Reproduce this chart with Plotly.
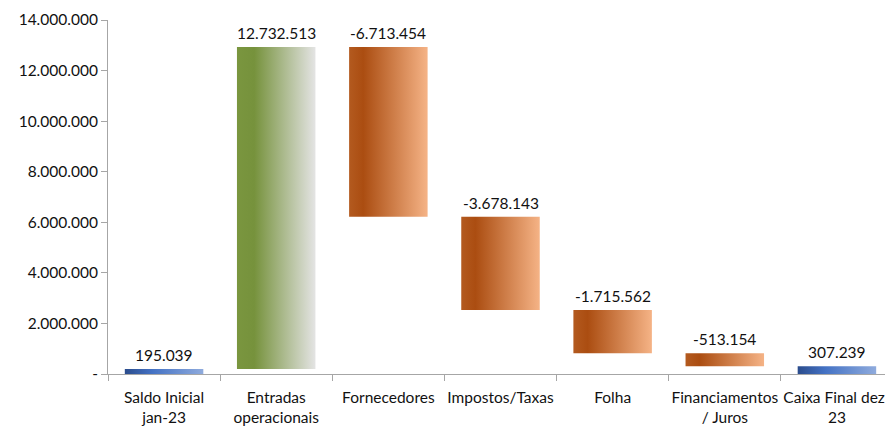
import plotly.graph_objects as go

# categorias e valores do fluxo de caixa
categorias = ["Saldo Inicial<br>jan-23", "Entradas<br>operacionais", "Fornecedores",
              "Impostos/Taxas", "Folha", "Financiamentos<br>/ Juros", "Caixa Final dez-<br>23"]
valores = [195039, 12732513, -6713454, -3678143, -1715562, -513154, 307239]
tipos = ["total", "entrada", "saida", "saida", "saida", "saida", "total"]

ticks_y = [0, 2000000, 4000000, 6000000, 8000000, 10000000, 12000000, 14000000]
ticks_y_txt = ["-", "2.000.000", "4.000.000", "6.000.000", "8.000.000",
               "10.000.000", "12.000.000", "14.000.000"]

gradientes = {
    "total": [[0, "#2B4C8C"], [0.35, "#4472C4"], [1, "#8FABDD"]],
    "entrada": [[0, "#7A963F"], [0.22, "#76923C"], [1, "#E4E4E4"]],
    "saida": [[0, "#B35A1F"], [0.18, "#AB4D11"], [1, "#F5B386"]],
}

def fmt(v):
    s = f"{abs(v):,}".replace(",", ".")
    return "-" + s if v < 0 else s

fig = go.Figure()
acum = 0
larg = 0.35
for i, (v, t) in enumerate(zip(valores, tipos)):
    if t == "total":
        base, topo = 0, v
    else:
        base, topo = acum, acum + v
    acum = topo if t != "total" or i == 0 else acum
    lo, hi = min(base, topo), max(base, topo)
    fig.add_trace(go.Scatter(
        x=[i - larg, i + larg, i + larg, i - larg, i - larg],
        y=[lo, lo, hi, hi, lo],
        mode="lines", line=dict(width=0), fill="toself",
        fillgradient=dict(type="horizontal", colorscale=gradientes[t]),
        hoverinfo="skip", showlegend=False))
    fig.add_annotation(x=i, y=hi, text=fmt(v), showarrow=False,
                       yanchor="bottom", yshift=3,
                       font=dict(size=15.5, color="#111111"))

# a página tem 8px de margem no body: compensado nas margens
fig.update_layout(
    width=893, height=428,
    margin=dict(l=100, r=8, t=12, b=62),
    plot_bgcolor="white", paper_bgcolor="white",
    font=dict(family="Lato, Calibri, sans-serif", size=14, color="#111111"),
    showlegend=False,
)
fig.update_xaxes(
    range=[-0.5, 6.5], tickvals=list(range(len(categorias))), ticktext=categorias,
    ticks="", tickangle=0, showgrid=False, zeroline=False, automargin=False,
    showline=True, linecolor="#A6A6A6", linewidth=1,
    tickfont=dict(size=15.5), ticklabelstandoff=9,
    minor=dict(tickvals=[k - 0.5 for k in range(len(categorias) + 1)],
               ticks="outside", ticklen=6, tickcolor="#A6A6A6"),
)
fig.update_yaxes(
    range=[0, 14000000], tickvals=ticks_y, ticktext=ticks_y_txt,
    ticks="outside", ticklen=6, tickcolor="#A6A6A6",
    showgrid=False, zeroline=False, automargin=False,
    showline=True, linecolor="#A6A6A6", linewidth=1,
    tickfont=dict(size=15.5),
)

fig.write_html("out.html")
